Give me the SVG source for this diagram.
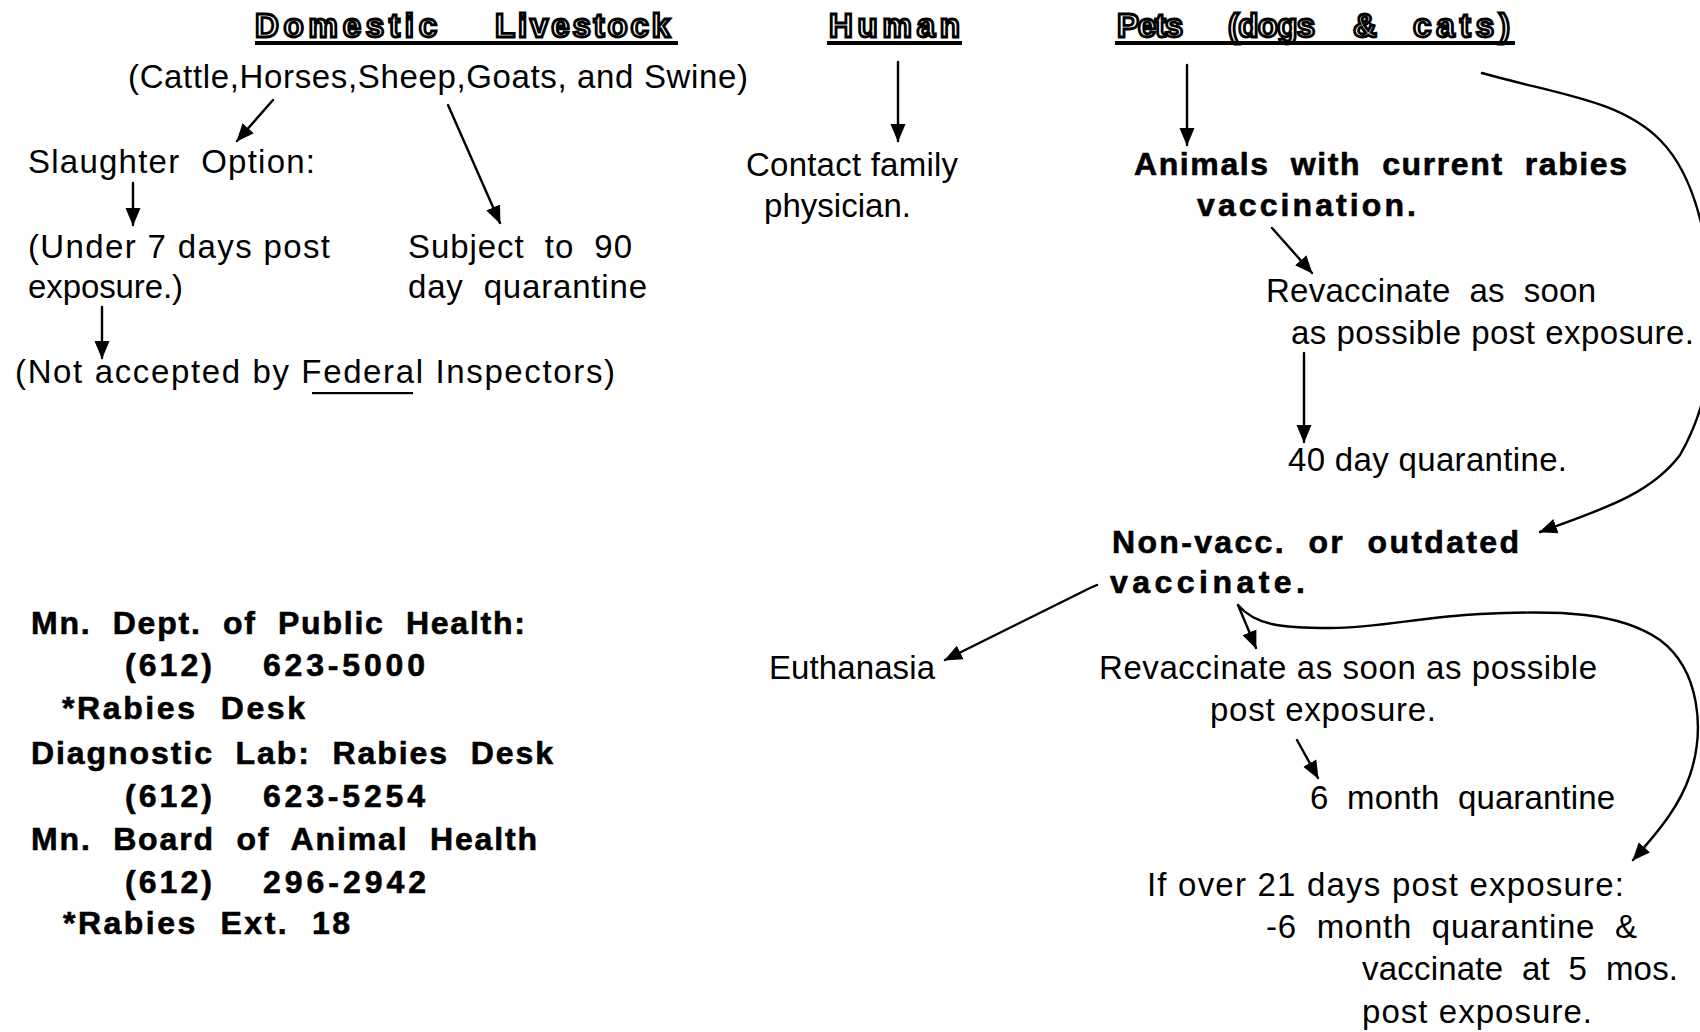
<svg xmlns="http://www.w3.org/2000/svg" width="1700" height="1032" viewBox="0 0 1700 1032">
<style>
text{font-family:"Liberation Sans",Arial,Helvetica,sans-serif;fill:#000;white-space:pre}
.r{font-size:33px}
.b{font-size:32px;font-weight:bold;stroke:#000;stroke-width:0.6px}
.h{font-size:33px;font-weight:bold;fill:#fff;stroke:#000;stroke-width:2.8px}
.ul{fill:#000}
.c{fill:none;stroke:#000;stroke-width:2.4;stroke-linecap:round;stroke-linejoin:round}
</style>
<defs>
<marker id="ah" markerUnits="userSpaceOnUse" markerWidth="20" markerHeight="18" refX="17" refY="9" orient="auto">
<path d="M0,1.5 L18,9 L0,16.5 Z" fill="#000"/>
</marker>
</defs>
<rect width="1700" height="1032" fill="#fff"/>

<g id="livestock-head">
<text class="h" x="255" y="37" textLength="182" lengthAdjust="spacing">Domestic</text>
<text class="h" x="495" y="37" textLength="175" lengthAdjust="spacing">Livestock</text>
<rect class="ul" x="255" y="41" width="423" height="4"/>
</g>
<g id="livestock-types">
<text class="r" x="128" y="88" textLength="620" lengthAdjust="spacing">(Cattle,Horses,Sheep,Goats, and Swine)</text>
</g>
<g id="slaughter">
<text class="r" x="28" y="173" textLength="287" lengthAdjust="spacing">Slaughter  Option:</text>
</g>
<g id="under7">
<text class="r" x="28" y="258" textLength="302" lengthAdjust="spacing">(Under 7 days post</text>
<text class="r" x="28" y="298" textLength="155" lengthAdjust="spacing">exposure.)</text>
</g>
<g id="not-accepted">
<text class="r" x="15" y="383" textLength="600" lengthAdjust="spacing">(Not accepted by Federal Inspectors)</text>
<rect class="ul" x="312" y="392" width="101" height="2.2"/>
</g>
<g id="quarantine90">
<text class="r" x="408" y="258" textLength="224" lengthAdjust="spacing">Subject  to  90</text>
<text class="r" x="408" y="298" textLength="239" lengthAdjust="spacing">day  quarantine</text>
</g>

<g id="human-head">
<text class="h" x="829" y="37" textLength="131" lengthAdjust="spacing">Human</text>
<rect class="ul" x="827" y="41" width="135" height="4"/>
</g>
<g id="contact">
<text class="r" x="746" y="176" textLength="212" lengthAdjust="spacing">Contact family</text>
<text class="r" x="764" y="217" textLength="147" lengthAdjust="spacing">physician.</text>
</g>

<g id="pets-head">
<text class="h" x="1117" y="37" textLength="66" lengthAdjust="spacing">Pets</text>
<text class="h" x="1228" y="37" textLength="87" lengthAdjust="spacing">(dogs</text>
<text class="h" x="1353" y="37" textLength="30" lengthAdjust="spacing">&amp;</text>
<text class="h" x="1413" y="37" textLength="97" lengthAdjust="spacing">cats)</text>
<rect class="ul" x="1115" y="41" width="400" height="4"/>
</g>
<g id="current-vacc">
<text class="b" x="1134" y="175" textLength="493" lengthAdjust="spacing">Animals  with  current  rabies</text>
<text class="b" x="1197" y="216" textLength="219" lengthAdjust="spacing">vaccination.</text>
</g>
<g id="revacc1">
<text class="r" x="1266" y="302" textLength="330" lengthAdjust="spacing">Revaccinate  as  soon</text>
<text class="r" x="1291" y="344" textLength="403" lengthAdjust="spacing">as possible post exposure.</text>
</g>
<g id="q40">
<text class="r" x="1288" y="471" textLength="279" lengthAdjust="spacing">40 day quarantine.</text>
</g>
<g id="nonvacc">
<text class="b" x="1112" y="553" textLength="407" lengthAdjust="spacing">Non-vacc.  or  outdated</text>
<text class="b" x="1110" y="593" textLength="195" lengthAdjust="spacing">vaccinate.</text>
</g>
<g id="euthanasia">
<text class="r" x="769" y="679" textLength="166" lengthAdjust="spacing">Euthanasia</text>
</g>
<g id="revacc2">
<text class="r" x="1099" y="679" textLength="498" lengthAdjust="spacing">Revaccinate as soon as possible</text>
<text class="r" x="1210" y="721" textLength="226" lengthAdjust="spacing">post exposure.</text>
</g>
<g id="q6">
<text class="r" x="1310" y="809" textLength="305" lengthAdjust="spacing">6  month  quarantine</text>
</g>
<g id="over21">
<text class="r" x="1147" y="896" textLength="477" lengthAdjust="spacing">If over 21 days post exposure:</text>
<text class="r" x="1266" y="938" textLength="371" lengthAdjust="spacing">-6  month  quarantine  &amp;</text>
<text class="r" x="1362" y="980" textLength="316" lengthAdjust="spacing">vaccinate  at  5  mos.</text>
<text class="r" x="1362" y="1023" textLength="230" lengthAdjust="spacing">post exposure.</text>
</g>

<g id="contacts">
<text class="b" x="31" y="634" textLength="494" lengthAdjust="spacing">Mn.  Dept.  of  Public  Health:</text>
<text class="b" x="125" y="676" textLength="87" lengthAdjust="spacing">(612)</text>
<text class="b" x="263" y="676" textLength="162" lengthAdjust="spacing">623-5000</text>
<text class="b" x="62" y="719" textLength="243" lengthAdjust="spacing">*Rabies  Desk</text>
<text class="b" x="31" y="764" textLength="522" lengthAdjust="spacing">Diagnostic  Lab:  Rabies  Desk</text>
<text class="b" x="125" y="807" textLength="87" lengthAdjust="spacing">(612)</text>
<text class="b" x="263" y="807" textLength="162" lengthAdjust="spacing">623-5254</text>
<text class="b" x="31" y="850" textLength="506" lengthAdjust="spacing">Mn.  Board  of  Animal  Health</text>
<text class="b" x="125" y="893" textLength="87" lengthAdjust="spacing">(612)</text>
<text class="b" x="263" y="893" textLength="163" lengthAdjust="spacing">296-2942</text>
<text class="b" x="63" y="934" textLength="287" lengthAdjust="spacing">*Rabies  Ext.  18</text>
</g>

<g id="connectors" class="c">
<path class="c" d="M273,100 L237,141" marker-end="url(#ah)"/>
<path class="c" d="M133,183 L133,225" marker-end="url(#ah)"/>
<path class="c" d="M102,307 L102,358" marker-end="url(#ah)"/>
<path class="c" d="M448,105 L500,223" marker-end="url(#ah)"/>
<path class="c" d="M898,62 L898,141" marker-end="url(#ah)"/>
<path class="c" d="M1187,65 L1187,145" marker-end="url(#ah)"/>
<path class="c" d="M1272,228 L1312,273" marker-end="url(#ah)"/>
<path class="c" d="M1304,353 L1304,442" marker-end="url(#ah)"/>
<path class="c" d="M1482,73 C1560,95 1620,100 1660,140 C1700,180 1712,260 1712,320 C1712,380 1700,420 1680,455 C1650,495 1600,510 1540,532" marker-end="url(#ah)"/>
<path class="c" d="M1097,585 L1090,588 L945,660" marker-end="url(#ah)"/>
<path class="c" d="M1238,605 L1256,648" marker-end="url(#ah)"/>
<path class="c" d="M1238,605 C1255,625 1280,628 1330,628 C1380,628 1420,617 1480,614 C1560,610 1620,612 1660,640 C1700,670 1705,730 1690,775 C1680,805 1660,830 1633,860" marker-end="url(#ah)"/>
<path class="c" d="M1297,740 L1318,778" marker-end="url(#ah)"/>
</g>
</svg>
